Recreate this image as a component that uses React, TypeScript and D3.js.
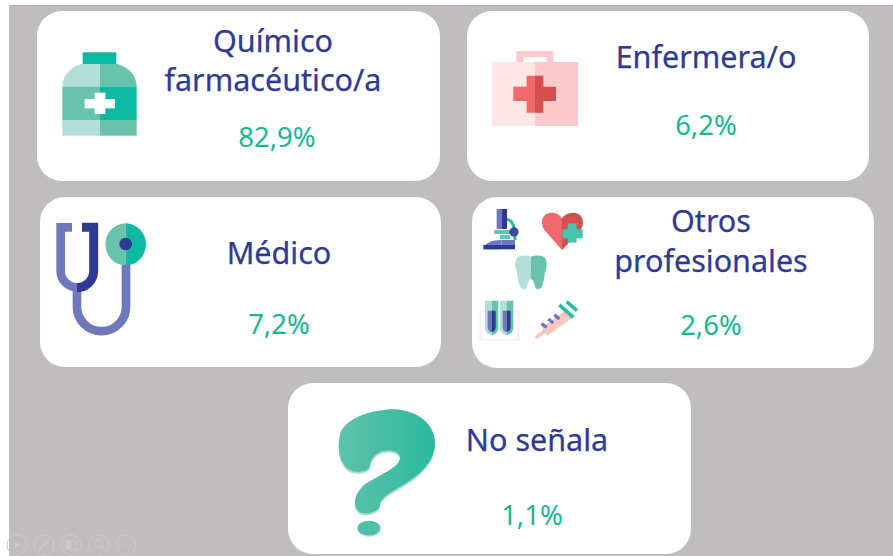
import React from "react";
import * as d3 from "d3";

// values
const categories = ["Químico\nfarmacéutico/a", "Enfermera/o", "Médico", "Otros\nprofesionales", "No señala"];
const shares = [82.9, 6.2, 7.2, 2.6, 1.1];

const W = 893;
const H = 556;
const NAVY = "#2e3a94";
const MID_BLUE = "#6f78bb";
const TEAL = "#0db9a0";
const TEAL_MID = "#68c3ad";
const TEAL_LIGHT = "#b2ded8";
const RED = "#f1686d";
const RED_DARK = "#d34f50";
const FONT = "'Noto Sans', sans-serif";

const fmt = d3.formatLocale({ decimal: ",", thousands: ".", grouping: [3], currency: ["", ""] }).format(".1f");

// card boxes and text anchors, same order as categories
const cards = [
  { x: 37, y: 11, w: 403, h: 170, cx: 273, lines: [52, 91], pctX: 277, pctY: 147 },
  { x: 467, y: 11, w: 402, h: 170, cx: 706, lines: [68], pctX: 706, pctY: 135 },
  { x: 40, y: 197, w: 401, h: 170, cx: 279, lines: [264], pctX: 279, pctY: 334 },
  { x: 472, y: 197, w: 402, h: 171, cx: 711, lines: [232, 272], pctX: 711, pctY: 335 },
  { x: 288, y: 383, w: 403, h: 171, cx: 537, lines: [451], pctX: 532, pctY: 525 },
];

// icons are drawn in the coordinates of a 3x crop, hence the scale
const Bottle = () => (
  <g transform="scale(0.3333)">
    <rect x={248} y={157} width={101} height={35} fill={TEAL} />
    <path d="M300 192H245C208 203 187 228 187 260H300Z" fill={TEAL_LIGHT} />
    <path d="M300 192H352C389 203 410 228 410 260H300Z" fill={TEAL_MID} />
    <rect x={187} y={260} width={113} height={100} fill={TEAL_MID} />
    <rect x={300} y={260} width={110} height={100} fill={TEAL} />
    <rect x={187} y={360} width={113} height={47} fill={TEAL_LIGHT} />
    <rect x={300} y={360} width={110} height={47} fill={TEAL_MID} />
    <rect x={254} y={297} width={91} height={28} fill="#fff" />
    <rect x={284} y={278} width={32} height={64} fill="#fff" />
  </g>
);

const Kit = () => (
  <g transform="translate(450,0) scale(0.3333)">
    <path d="M199 186V153H310V186H289V171H220V186Z" fill="#fbc9c9" />
    <rect x={126} y={186} width={129} height={192} fill="#fde8e6" />
    <rect x={255} y={186} width={129} height={192} fill="#fbc9c9" />
    <path d="M230 227H255V338H230V303H190V260H230Z" fill={RED} />
    <path d="M255 227H280V260H318V303H280V338H255Z" fill={RED_DARK} />
  </g>
);

const Stethoscope = () => (
  <g transform="translate(30,190) scale(0.3333)" fill="none">
    <path d="M288 220V350A73.5 73.5 0 0 1 141 350V292" stroke={MID_BLUE} strokeWidth={26} />
    <path d="M126 112H92V243A49 49 0 0 0 141 292" stroke={MID_BLUE} strokeWidth={26} />
    <path d="M156 112H191V243A50 50 0 0 1 141 293" stroke={NAVY} strokeWidth={27} />
    <path d="M287 100A60 62 0 0 0 287 226Z" fill={TEAL_MID} />
    <path d="M287 100A60 62 0 0 1 287 226Z" fill={TEAL} />
    <circle cx={287} cy={162} r={19} fill={NAVY} />
  </g>
);

const Others = () => (
  <g transform="translate(465,190) scale(0.3333)">
    {/* microscope */}
    <path d="M109 150C80 150 57 160 55 178H109Z" fill={MID_BLUE} />
    <rect x={109} y={150} width={41} height={15} fill={MID_BLUE} />
    <rect x={55} y={165} width={95} height={13} fill={NAVY} />
    <path d="M125 88C145 92 150 110 150 150" fill="none" stroke="#27bfa3" strokeWidth={9} />
    <rect x={95} y={57} width={16} height={60} fill={MID_BLUE} />
    <rect x={111} y={57} width={15} height={60} fill={NAVY} />
    <rect x={88} y={120} width={48} height={12} fill="#5fc8b2" />
    <rect x={105} y={135} width={30} height={12} fill="#5fc8b2" />
    <circle cx={147} cy={126} r={14} fill="#3c4a9f" />
    {/* heart */}
    <path d="M291 85C285 75 275 68 260 68C235 68 220 95 240 122L291 180Z" fill={RED} />
    <path d="M291 85C297 75 310 68 325 68C350 68 364 95 345 122L291 180Z" fill={RED_DARK} />
    <rect x={292} y={118} width={61} height={27} fill="#45c4ae" />
    <rect x={308} y={100} width={27} height={58} fill="#45c4ae" />
    {/* tooth */}
    <path d="M198 200C185 195 175 197 165 198C150 202 148 225 155 245C160 265 160 297 177 298C190 298 186 268 198 268Z" fill={TEAL_LIGHT} />
    <path d="M198 200C211 195 221 197 231 198C246 202 248 225 241 245C236 265 236 297 219 298C206 298 210 268 198 268Z" fill={TEAL_MID} />
    {/* test tubes */}
    <rect x={46} y={365} width={114} height={84} fill="none" stroke="#fdeee9" strokeWidth={6} />
    {[60, 105].map((x) => (
      <g key={x}>
        <path d={`M${x} 332H${x + 20}V435C${x + 8} 435 ${x} 425 ${x} 412Z`} fill={TEAL_LIGHT} />
        <path d={`M${x + 20} 332H${x + 40}V412C${x + 40} 425 ${x + 32} 435 ${x + 20} 435Z`} fill={TEAL_MID} />
        <path d={`M${x + 8} 362H${x + 20}V426C${x + 12} 426 ${x + 8} 418 ${x + 8} 410Z`} fill={MID_BLUE} />
        <path d={`M${x + 20} 362H${x + 32}V410C${x + 32} 418 ${x + 28} 426 ${x + 20} 426Z`} fill={NAVY} />
      </g>
    ))}
    {/* syringe */}
    <g fill="none">
      <path d="M212 443L240 423" stroke="#f9c7c3" strokeWidth={11} />
      <path d="M238 425L312 372" stroke="#f9c7c3" strokeWidth={30} />
      <path d="M283 345L325 382M305 335L336 362" stroke="#27bfa3" strokeWidth={11} />
      <path d="M230 401L245 412M250 387L265 399M268 374L283 387" stroke={MID_BLUE} strokeWidth={10} />
    </g>
  </g>
);

const QUESTION =
  "M1110 270C1108 285 1070 295 1045 280C1020 260 1010 220 1020 175C1035 125 1120 100 1180 100C1260 102 1305 150 1305 200C1305 270 1240 310 1170 350C1150 365 1140 375 1140 385C1140 410 1090 420 1075 405C1055 385 1065 350 1095 325C1130 300 1200 275 1200 245C1200 225 1170 220 1150 225C1125 232 1112 250 1110 270Z";

const Question = () => (
  <g transform="translate(0,376) scale(0.3333)">
    <path d={QUESTION} fill="#a5dccf" transform="translate(0,6)" />
    <path d={QUESTION} fill="url(#qGrad)" />
    <ellipse cx={1107} cy={460} rx={34} ry={22} fill="#a5dccf" />
    <ellipse cx={1107} cy={456} rx={34} ry={22} fill="#4fc0a8" />
  </g>
);

const icons = [Bottle, Kit, Stethoscope, Others, Question];

// faint slideshow controls, bottom left
const Toolbar = () => (
  <g fill="none" stroke="#cbc9ca" strokeWidth={1}>
    {[17, 44, 71, 99, 126].map((x) => (
      <circle key={x} cx={x} cy={545} r={10} />
    ))}
    <path d="M15 542L20 545L15 548Z" fill="#cbc9ca" stroke="none" />
    <path d="M39 550L49 540" strokeWidth={1.5} />
    <rect x={66} y={540} width={4} height={3} fill="#cbc9ca" />
    <rect x={66} y={545} width={4} height={4} fill="#cbc9ca" />
    <rect x={71} y={541} width={6} height={9} />
    <circle cx={98} cy={543} r={4} />
    <path d="M101 546L105 550" strokeWidth={1.5} />
    <path d="M121 545H122.5M125.5 545H127M130 545H131.5" strokeWidth={1.2} />
  </g>
);

export default function App() {
  return (
    <svg width={W} height={H} style={{ position: "absolute", left: 0, top: 0, display: "block" }}>
      <defs>
        <linearGradient id="qGrad" gradientUnits="userSpaceOnUse" x1={1015} x2={1305} y1={0} y2={0}>
          <stop offset="0" stopColor="#60c2ac" />
          <stop offset="1" stopColor="#2bba9d" />
        </linearGradient>
      </defs>
      <rect width={W} height={H} fill="#fff" />
      <rect x={9} y={5} width={W - 9} height={H - 5} fill="#bfbdbe" />
      <rect x={9} y={5} width={W - 9} height={1} fill="#b9aeaa" />

      <Toolbar />

      {categories.map((name, i) => {
        const c = cards[i];
        const Icon = icons[i];
        return (
          <g key={name}>
            <rect x={c.x} y={c.y} width={c.w} height={c.h} rx={25} fill="#fff" />
            <Icon />
            <text textAnchor="middle" fontFamily={FONT} fontSize={30.5} fill={NAVY} stroke={NAVY} strokeWidth={0.25}>
              {name.split("\n").map((line, j) => (
                <tspan key={line} x={c.cx} y={c.lines[j]}>
                  {line}
                </tspan>
              ))}
            </text>
            <text x={c.pctX} y={c.pctY} textAnchor="middle" fontFamily={FONT} fontSize={27.5} fill="#17b794">
              {fmt(shares[i])}%
            </text>
          </g>
        );
      })}
    </svg>
  );
}
